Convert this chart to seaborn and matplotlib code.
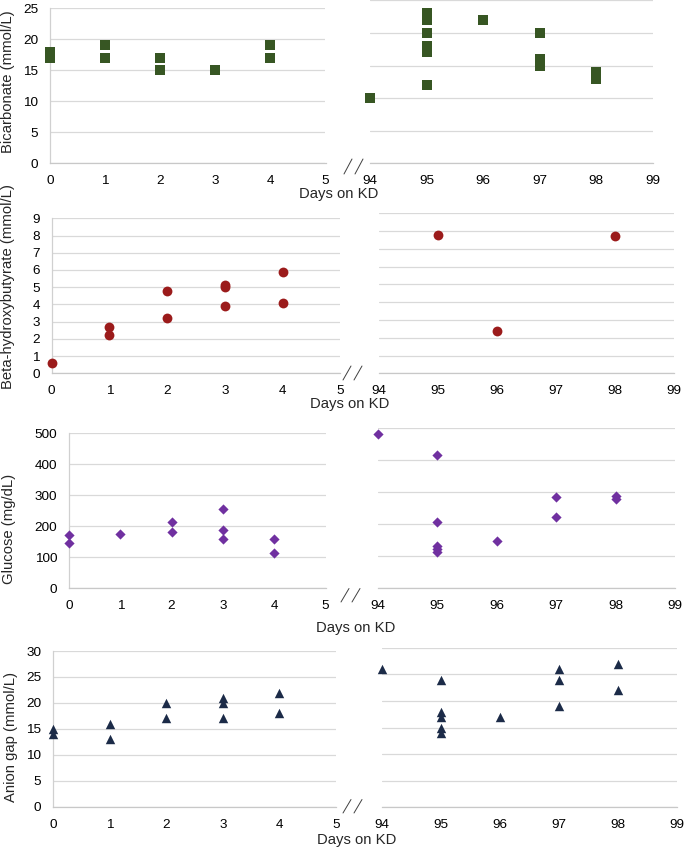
import matplotlib
matplotlib.use("Agg")
import matplotlib.pyplot as plt
from matplotlib.lines import Line2D
import numpy as np
import pandas as pd
import seaborn as sns

# --- data (early days / late days) ---
bicarb_days_early = [0, 0, 1, 1, 2, 2, 3, 4, 4]
bicarb_early = [17, 18, 17, 19, 15, 17, 15, 17, 19]
bicarb_days_late = [94, 95, 95, 95, 95, 95, 95, 96, 97, 97, 97, 98, 98]
bicarb_late = [10, 23, 22, 20, 18, 17, 12, 22, 20, 16, 15, 14, 13]

bhb_days_early = [0, 1, 1, 2, 2, 3, 3, 3, 4, 4]
bhb_early = [0.6, 2.7, 2.2, 4.8, 3.2, 5.1, 5.0, 3.9, 5.9, 4.1]
bhb_days_late = [95, 96, 98]
bhb_late = [7.8, 2.4, 7.7]

glucose_days_early = [0, 0, 1, 2, 2, 3, 3, 3, 4, 4]
glucose_early = [172, 145, 174, 215, 181, 255, 188, 159, 159, 115]
glucose_days_late = [94, 95, 95, 95, 95, 95, 96, 97, 97, 98, 98]
glucose_late = [482, 416, 208, 132, 122, 113, 149, 286, 224, 288, 278]

anion_days_early = [0, 0, 1, 1, 2, 2, 3, 3, 3, 4, 4]
anion_early = [15, 14, 16, 13, 20, 17, 21, 20, 17, 22, 18]
anion_days_late = [94, 95, 95, 95, 95, 95, 96, 97, 97, 97, 98, 98]
anion_late = [26, 24, 18, 17, 15, 14, 17, 26, 24, 19, 27, 22]

ylabels = ["Bicarbonate (mmol/L)", "Beta-hydroxybutyrate (mmol/L)",
           "Glucose (mg/dL)", "Anion gap (mmol/L)"]

sns.set_style("white")
plt.rcParams["font.family"] = ["Liberation Sans", "DejaVu Sans"]

W, H = 685, 848
fig = plt.figure(figsize=(W / 100, H / 100), dpi=100)


def px_axes(x0, x1, ytop, ybot):
    return fig.add_axes([x0 / W, 1 - ybot / H, (x1 - x0) / W, (ybot - ytop) / H])


grid_c = "#d9d9d9"
tick_fs = 9.7
label_fs = 10.7

rows = [
    dict(early=(bicarb_days_early, bicarb_early), late=(bicarb_days_late, bicarb_late),
         ymax=25, step=5, color="#375623", marker="s", s=48,
         left=(50, 325.5, 8.3, 163.3), right=(370, 653, 0.3, 163.3),
         ylab=(8, 82), days=(339, 194), slash=(344, 174, 159)),
    dict(early=(bhb_days_early, bhb_early), late=(bhb_days_late, bhb_late),
         ymax=9, step=1, color="#9b1b1b", marker="o", s=50,
         left=(51.7, 340.4, 218.3, 373.3), right=(379.3, 674.3, 213.3, 373.3),
         ylab=(8, 287), days=(350, 404), slash=(343, 380, 366)),
    dict(early=(glucose_days_early, glucose_early), late=(glucose_days_late, glucose_late),
         ymax=500, step=100, color="#7030a0", marker="D", s=27,
         left=(69, 325.5, 433.3, 588.3), right=(377.7, 675, 428.3, 588.3),
         ylab=(9, 529), days=(355.7, 628.3), slash=(341, 602, 588.5)),
    dict(early=(anion_days_early, anion_early), late=(anion_days_late, anion_late),
         ymax=30, step=5, color="#1c2b48", marker="^", s=46,
         left=(53.3, 335.8, 651, 806.7), right=(382.3, 676.7, 647.7, 807.3),
         ylab=(11, 737), days=(357, 840), slash=(343, 813, 799.5)),
]

for r, ylab_text in zip(rows, ylabels):
    for side in ("left", "right"):
        ax = px_axes(*r[side])
        days, vals = r["early"] if side == "left" else r["late"]
        df = pd.DataFrame({"day": days, "value": vals})
        sns.scatterplot(data=df, x="day", y="value", ax=ax, color=r["color"],
                        marker=r["marker"], s=r["s"], linewidth=0, clip_on=False,
                        zorder=3, legend=False)
        xt = np.arange(0, 6) if side == "left" else np.arange(94, 100)
        ax.set_xlim(xt[0], xt[-1])
        ax.set_ylim(0, r["ymax"])
        yt = np.arange(0, r["ymax"] + r["step"] / 2, r["step"])
        ax.set_yticks(yt)
        ax.set_xticks(xt)
        ax.yaxis.grid(True, color=grid_c, linewidth=0.9)
        ax.set_axisbelow(True)
        ax.tick_params(axis="both", length=0, labelsize=tick_fs, pad=8.5,
                       labelcolor="black")
        ax.set_xlabel("")
        ax.set_ylabel("")
        for sp in ("top", "right"):
            ax.spines[sp].set_visible(False)
        ax.spines["bottom"].set_color("#c8c8c8")
        ax.spines["bottom"].set_linewidth(0.9)
        if side == "left":
            ax.spines["left"].set_color("#d0d0d0")
            ax.spines["left"].set_linewidth(0.9)
            ax.set_yticklabels([f"{v:g}" for v in yt])
        else:
            ax.spines["left"].set_visible(False)
            ax.set_yticklabels([])
        ax.set_facecolor("none")

    # axis titles
    fig.text(r["ylab"][0] / W, 1 - r["ylab"][1] / H, ylab_text, rotation=90,
             ha="center", va="center", fontsize=label_fs)
    fig.text(r["days"][0] / W, 1 - r["days"][1] / H, "Days on KD",
             ha="center", va="center", fontsize=label_fs)

    # axis break marks
    sx, yb, ytp = r["slash"]
    for dx in (0, 11):
        fig.add_artist(Line2D([(sx + dx) / W, (sx + dx + 8) / W],
                              [1 - yb / H, 1 - ytp / H],
                              color="#404040", linewidth=0.7))

fig.savefig("out.png", dpi=100)
